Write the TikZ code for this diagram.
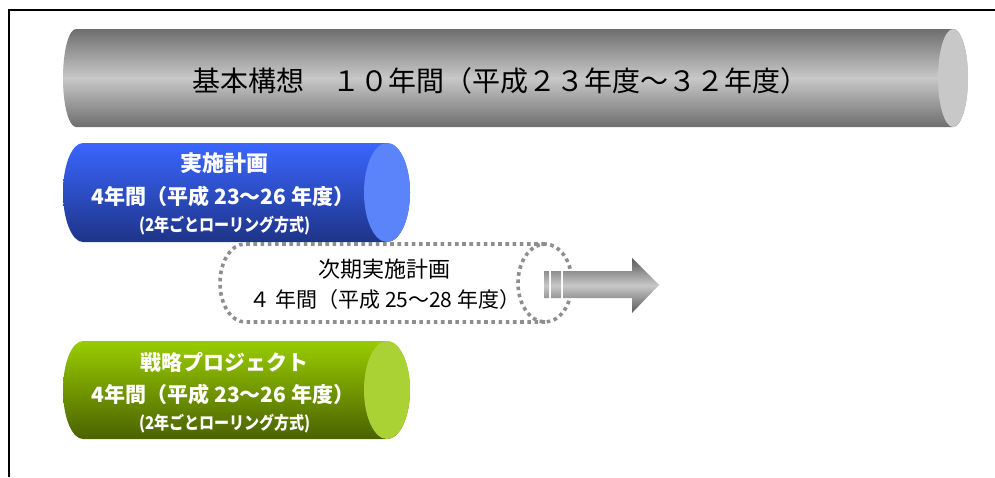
\documentclass[tikz,border=0pt]{standalone}
\usepackage{fontspec}
\usepackage{graphicx}
\setmainfont{Noto Sans CJK JP}
\definecolor{tubedark}{HTML}{6E6E6E}
\definecolor{tubelight}{HTML}{C8C8C8}
\definecolor{bluetop}{HTML}{3A66FF}
\definecolor{bluebot}{HTML}{1E3488}
\definecolor{bluecap}{HTML}{5B84FA}
\definecolor{greentop}{HTML}{99CC00}
\definecolor{greenbot}{HTML}{4A6200}
\definecolor{greencap}{HTML}{AAD235}
\definecolor{dotgray}{HTML}{8E8E8E}
\definecolor{arrowdark}{HTML}{5A5A5A}

\begin{document}
\begin{tikzpicture}[x=1pt,y=1pt,inner sep=0pt,
  headtxt/.style={font=\fontsize{28pt}{30pt}\selectfont},
  bigtxt/.style={white,font=\bfseries\fontsize{22pt}{24pt}\selectfont},
  boldtxt/.style={white,font=\bfseries\fontsize{21pt}{24pt}\selectfont},
  subtxt/.style={white,font=\bfseries\fontsize{17.5pt}{19pt}\selectfont},
  plaintxt/.style={font=\fontsize{21pt}{24pt}\selectfont},
  dotline/.style={dotgray,line width=3.6pt,dash pattern=on 3.6pt off 3.6pt}]
\useasboundingbox (0,0) rectangle (995,-477);
\draw[line width=2pt] (9,-477) -- (9,-10) -- (995,-10);
% grey tube
\shade[top color=tubedark,bottom color=tubedark,middle color=tubelight]
  (76,-29) -- (953,-29) arc[start angle=90,end angle=-90,x radius=15,y radius=49]
  -- (76,-127) arc[start angle=270,end angle=90,x radius=13,y radius=49] -- cycle;
\fill[tubelight] (953,-78) ellipse[x radius=15,y radius=49];
\node[headtxt] (kihon) at (500,-81) {基本構想　１０年間（平成２３年度～３２年度）};
% blue tube
\shade[top color=bluetop,bottom color=bluebot]
  (83,-143) -- (387,-143) arc[start angle=90,end angle=-90,x radius=23,y radius=49.5]
  -- (83,-242) arc[start angle=270,end angle=90,x radius=20,y radius=49.5] -- cycle;
\fill[bluecap] (387,-192.5) ellipse[x radius=23,y radius=49.5];
\node[bigtxt] (jisshiA) at (224,-163.5) {実施計画};
\node[boldtxt] (jisshiB) at (223,-196) {4年間（平成 23～26 年度）};
\node[subtxt] (jisshiC) at (225,-226) {\scalebox{0.86}[1]{(2年ごとローリング方式)}};
% next plan (dotted)
\draw[dotline] (545,-244) -- (245,-244) arc[start angle=90,end angle=270,x radius=25,y radius=39] -- (545,-322);
\draw[dotline] (545,-283) ellipse[x radius=27,y radius=39];
\node[plaintxt,font=\fontsize{22pt}{24pt}\selectfont] (jikiA) at (384,-269) {次期実施計画};
\node[plaintxt] (jikiB) at (385,-300) {４ 年間（平成 25～28 年度）};
\coordinate (tip) at (659,-285);
\shade[top color=arrowdark,bottom color=arrowdark,middle color=tubelight]
  (544,-271) rectangle (549,-298) (551,-271) rectangle (561,-298)
  (563,-271) -- (632,-271) -- (632,-258) -- (tip) -- (632,-313) -- (632,-298) -- (563,-298) -- cycle;
% green tube
\shade[top color=greentop,bottom color=greenbot]
  (83,-341) -- (387,-341) arc[start angle=90,end angle=-90,x radius=23,y radius=49]
  -- (83,-439) arc[start angle=270,end angle=90,x radius=20,y radius=49] -- cycle;
\fill[greencap] (387,-390) ellipse[x radius=23,y radius=49];
\node[boldtxt] (senryakuA) at (224,-362) {戦略プロジェクト};
\node[boldtxt] (senryakuB) at (223,-394) {4年間（平成 23～26 年度）};
\node[subtxt] (senryakuC) at (225,-424) {\scalebox{0.86}[1]{(2年ごとローリング方式)}};
\end{tikzpicture}
\end{document}
